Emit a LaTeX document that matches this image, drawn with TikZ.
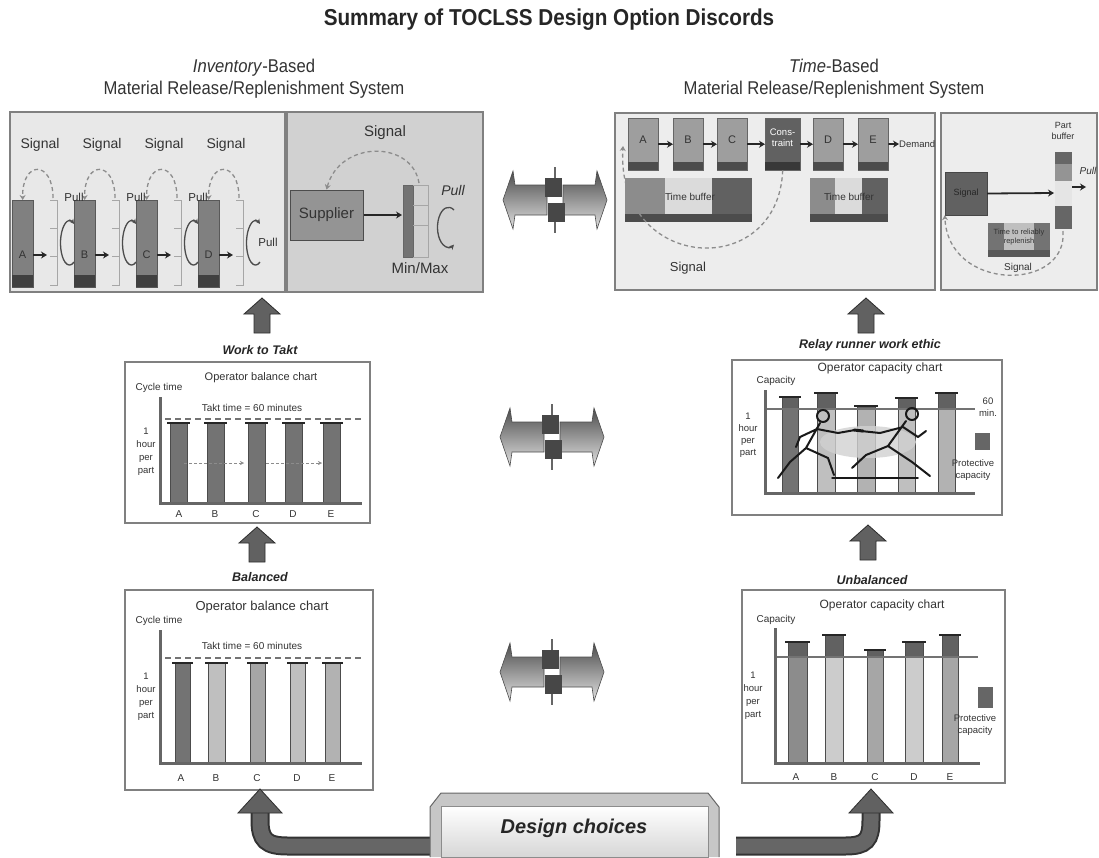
\documentclass[tikz,border=0pt]{standalone}
\usepackage{fontspec}
\setmainfont{Liberation Sans}
\newfontfamily\narrowsans[FakeStretch=0.9]{Liberation Sans}
\usetikzlibrary{arrows.meta}
\usetikzlibrary{calc}
\usetikzlibrary{positioning}

\newcommand\fs[2]{\fontsize{#1}{#2}\selectfont}
% two-tone bar with a cap: x1, x2, top, split, bottom, lower fill
\newcommand\capbar[6]{%
  \fill[black!62] (#1,#3) rectangle (#2,#4);
  \fill[#6] (#1,#4) rectangle (#2,#5);
  \draw[black!70, line width=0.8pt] (#1,#3) rectangle (#2,#5);
  \draw[black!85, line width=2.6pt] (#1-3,#3) -- (#2+3,#3);
}

\tikzset{
  panel/.style={draw=black!50, line width=1.3pt, fill=black!9},
  chart/.style={draw=black!50, line width=1.6pt, fill=white},
  lbl/.style={text=black!80, inner sep=1pt},
  caption/.style={font=\bfseries\itshape\fs{12.5}{15}, text=black!85},
  station/.style={draw=black!65, fill=black!50, minimum width=21pt, minimum height=87pt, inner sep=0},
  proc/.style={draw=black!60, fill=black!38, minimum width=30pt, minimum height=52pt, inner sep=0},
  rack/.style={draw=black!35, line width=0.9pt},
  arrow/.style={-{Stealth[length=6pt,width=7pt]}, line width=1.8pt, draw=black!85},
  signal/.style={-{Stealth[length=5pt,width=6pt]}, dash pattern=on 4pt off 3pt, line width=1.3pt, draw=black!45},
  pullloop/.style={{Stealth[length=5pt,width=5pt]}-, line width=1.3pt, draw=black!70},
  axis/.style={line width=3pt, draw=black!60},
  takt/.style={dash pattern=on 6pt off 4pt, line width=1.6pt, draw=black!55},
  blockarrow/.style={fill=black!62, draw=black!82, line width=0.8pt},
  uparrow/.pic={\path[blockarrow] (0,0) -- (18,16) -- (8,16) -- (8,35) -- (-8,35) -- (-8,16) -- (-18,16) -- cycle;},
  tradeoff/.pic={
    \path[top color=black!70, bottom color=black!12, draw=black!70, line width=0.6pt]
      (-8,-15) -- (-40,-15) -- (-42,-29) -- (-52,0) -- (-42,29) -- (-40,15) -- (-8,15) -- cycle;
    \path[top color=black!70, bottom color=black!12, draw=black!70, line width=0.6pt]
      (8,-15) -- (40,-15) -- (42,-29) -- (52,0) -- (42,29) -- (40,15) -- (8,15) -- cycle;
    \fill[black!72] (-10,-22) rectangle (7,-3);
    \fill[black!72] (-7,3) rectangle (10,22);
    \draw[black!60, line width=1.8pt] (0,-33) -- (0,-22) (0,22) -- (0,33);
  }
}

\begin{document}
\begin{tikzpicture}[x=1pt, y=-1pt]
\useasboundingbox (0,0) rectangle (1099,857);
\fill[white] (0,0) rectangle (1099,857);

% headings
\node[font=\narrowsans\bfseries\fs{23}{27}, text=black!85] (title) at (549,20) {Summary of TOCLSS Design Option Discords};
\node[lbl, font=\narrowsans\fs{18.5}{22}, align=center] (invhead) at (254,79) {\textit{Inventory}-Based\\Material Release/Replenishment System};
\node[lbl, font=\narrowsans\fs{18.5}{22}, align=center] (timehead) at (834,79) {\textit{Time}-Based\\Material Release/Replenishment System};

% ---- inventory based: kanban loops
\draw[panel] (10,112) rectangle (285,292);
\foreach \s/\x in {A/12,B/74,C/136,D/198}{
  \node[station, anchor=north west] (st\s) at (\x,200) {};
  \fill[black!75] (\x,275) rectangle ++(21,12);
  \node[lbl, font=\fs{11}{13}] at (\x+10.5,255) {\s};
  \draw[rack] (\x+38,200) -- (\x+45,200) -- (\x+45,285) -- (\x+38,285)
              (\x+38,228) -- (\x+45,228) (\x+38,256) -- (\x+45,256);
  \coordinate (rk\s) at (\x+41,198);
  \draw[arrow] (\x+21,255) -- (\x+35,255);
  \draw[signal] (rk\s) .. controls (\x+41,160) and (\x+10,160) .. (st\s.north);
  \draw[pullloop] (\x+62,224) arc[start angle=-60, end angle=-300, x radius=9, y radius=22];
  \node[lbl, font=\fs{14}{16}] at (\x+28,145) {Signal};
}
\foreach \x in {12,74,136}
  \node[lbl, font=\fs{11.5}{13}] at (\x+62,197) {Pull};
\node[lbl, font=\fs{11.5}{13}] at (268,242) {Pull};

% supplier with min/max rack
\draw[panel, fill=black!18] (287,112) rectangle (483,292);
\node[draw=black!70, fill=black!42, line width=1pt, minimum width=73pt, minimum height=50pt,
      font=\fs{15}{17}, text=black!80] (supplier) at (326.5,215) {Supplier};
\fill[black!55] (403,185) rectangle (413,257);
\draw[black!60] (403,185) rectangle (413,257);
\draw[rack] (413,185) -- (428,185) -- (428,257) -- (413,257)
            (413,205) -- (428,205) (413,225) -- (428,225);
\coordinate (minmax) at (419,183);
\draw[arrow] (supplier.east) -- (402,215);
\draw[signal] (minmax) .. controls (412,140) and (340,140) .. (supplier.north);
\node[lbl, font=\fs{15}{17}] at (385,133) {Signal};
\node[lbl, font=\itshape\fs{14}{16}] at (453,190) {Pull};
\draw[pullloop, -{Stealth[length=5pt,width=5pt]}] (454,210) arc[start angle=-60, end angle=-300, x radius=11, y radius=20];
\node[lbl, font=\fs{15}{17}] at (420,268) {Min/Max};

% ---- time based: drum buffer rope
\draw[panel, fill=black!7] (615,113) rectangle (935,290);
\foreach \s/\x in {A/628,B/673,C/717,D/813,E/858}{
  \node[proc, anchor=north west] (p\s) at (\x,118) {};
  \fill[black!70] (\x,162) rectangle ++(30,8);
  \node[lbl, font=\fs{11}{13}] at (\x+15,140) {\s};
}
\node[proc, fill=black!62, minimum width=35pt, anchor=north west] (pK) at (765,118) {};
\fill[black!78] (765,162) rectangle ++(35,8);
\node[font=\fs{9.5}{11}, text=white, align=center] at (782.5,138) {Cons-\\traint};
\node[lbl, font=\fs{9.5}{11}, anchor=west, inner sep=0] (demand) at (899,144) {Demand};
\draw[arrow] (pA) -- (pB);
\draw[arrow] (pB) -- (pC);
\draw[arrow] (pC) -- (pK);
\draw[arrow] (pK) -- (pD);
\draw[arrow] (pD) -- (pE);
\draw[arrow] (pE) -- (demand.west);

% time buffers
\fill[black!45] (625,178) rectangle (665,222);
\fill[black!14] (665,178) rectangle (712,222);
\fill[black!62] (712,178) rectangle (752,222);
\fill[black!70] (625,214) rectangle (752,222);
\node[lbl, font=\fs{10}{12}] (tb1) at (690,197) {Time buffer};
\fill[black!45] (810,178) rectangle (835,222);
\fill[black!14] (835,178) rectangle (862,222);
\fill[black!62] (862,178) rectangle (888,222);
\fill[black!70] (810,214) rectangle (888,222);
\node[lbl, font=\fs{10}{12}] (tb2) at (849,197) {Time buffer};
\draw[signal] (pK.south) .. controls (778,282) and (616,272) .. (623,146);
\node[lbl, font=\fs{13}{15}] at (688,268) {Signal};

% part buffer replenishment
\draw[panel, fill=black!7] (941,113) rectangle (1097,290);
\node[fill=black!62, draw=black!72, minimum width=42pt, minimum height=43pt, inner sep=0,
      font=\fs{9}{11}, text=black!85] (sigbox) at (966,193.5) {Signal};
\fill[black!55] (988,223) rectangle (1004,257);
\fill[black!25] (1004,223) rectangle (1034,257);
\fill[black!55] (1034,223) rectangle (1050,257);
\fill[black!65] (988,250) rectangle (1050,257);
\node[lbl, font=\fs{7.5}{9}, align=center] (replen) at (1019,237) {Time to reliably\\replenish};
\fill[black!60] (1055,152) rectangle (1072,164);
\fill[black!42] (1055,164) rectangle (1072,181);
\fill[black!10] (1055,181) rectangle (1072,206);
\fill[black!60] (1055,206) rectangle (1072,229);
\coordinate (pbin) at (1054,193);
\coordinate (pbout) at (1072,187);
\node[lbl, font=\fs{9}{10.5}, align=center] at (1063,131) {Part\\buffer};
\draw[arrow] (sigbox.east) -- (pbin);
\draw[arrow] (pbout) -- (1086,187);
\node[lbl, font=\itshape\fs{10}{12}] at (1088,171) {Pull};
\draw[signal] (1063,231) .. controls (1068,292) and (948,292) .. (sigbox.south west);
\node[lbl, font=\fs{10}{12}] at (1018,268) {Signal};

% trade-off symbols
\pic at (555,200) {tradeoff};
\pic at (552,437) {tradeoff};
\pic at (552,672) {tradeoff};

% up arrows
\pic at (262,298) {uparrow};
\pic at (866,298) {uparrow};
\pic at (257,527) {uparrow};
\pic at (868,525) {uparrow};

% ---- work to takt chart
\node[caption] (takt) at (260,350) {Work to Takt};
\draw[chart] (125,362) rectangle (370,523);
\node[lbl, font=\fs{11}{13}] at (261,378) {Operator balance chart};
\node[lbl, font=\fs{10}{12}] at (159,388) {Cycle time};
\node[lbl, font=\fs{10}{12}] at (252,408) {Takt time = 60 minutes};
\draw[takt] (165,419) -- (362,419);
\foreach \x in {170,207,248,285,323}{\capbar{\x}{\x+17}{423}{423}{503}{black!55}}
\draw[black!45, densely dashed, -{Stealth[length=4pt,width=4pt]}] (184,463) -- (244,463);
\draw[black!45, densely dashed, -{Stealth[length=4pt,width=4pt]}] (266,463) -- (322,463);
\draw[axis] (160,397) -- (160,503) -- (362,503);
\node[lbl, align=center, font=\fs{9.5}{13}] at (146,452) {1\\hour\\per\\part};
\foreach \s/\x in {A/179,B/215,C/256,D/293,E/331}
  \node[lbl, font=\fs{10}{12}] at (\x,514) {\s};

% ---- balanced chart
\node[caption] (bal) at (260,577) {Balanced};
\draw[chart] (125,590) rectangle (373,790);
\node[lbl, font=\fs{13}{15}] at (262,607) {Operator balance chart};
\node[lbl, font=\fs{10}{12}] at (159,621) {Cycle time};
\node[lbl, font=\fs{10}{12}] at (252,646) {Takt time = 60 minutes};
\draw[takt] (165,658) -- (362,658);
\capbar{175}{190}{663}{663}{763}{black!55}
\capbar{208}{225}{663}{663}{763}{black!25}
\capbar{250}{265}{663}{663}{763}{black!35}
\capbar{290}{305}{663}{663}{763}{black!25}
\capbar{325}{340}{663}{663}{763}{black!30}
\draw[axis] (160,630) -- (160,763) -- (362,763);
\node[lbl, align=center, font=\fs{9.5}{13}] at (146,697) {1\\hour\\per\\part};
\foreach \s/\x in {A/181,B/216,C/257,D/297,E/332}
  \node[lbl, font=\fs{10}{12}] at (\x,778) {\s};

% ---- relay runner chart
\node[caption] (relay) at (870,345) {Relay runner work ethic};
\draw[chart] (732,360) rectangle (1002,515);
\node[lbl, font=\fs{12}{14}] at (880,368) {Operator capacity chart};
\node[lbl, font=\fs{10}{12}] at (776,381) {Capacity};
\capbar{782}{798}{397}{409}{493}{black!55}
\capbar{817}{835}{393}{409}{493}{black!25}
\capbar{857}{875}{406}{409}{493}{black!30}
\capbar{898}{915}{398}{409}{493}{black!25}
\capbar{938}{955}{393}{409}{493}{black!30}
\draw[black!55, line width=1.3pt] (765,409) -- (975,409);
\node[lbl, align=center, font=\fs{9.5}{12}] at (988,407) {60\\min.};
\fill[black!60] (975,433) rectangle (990,450);
\node[lbl, align=center, font=\fs{9.5}{12}] at (973,470) {Protective\\capacity};
\node[lbl, align=center, font=\fs{9.5}{12}] at (748,435) {1\\hour\\per\\part};
% the two runners passing the baton
\fill[black!18, opacity=0.8] (868,442) ellipse [x radius=48, y radius=16];
\begin{scope}[line width=2pt, line cap=round, line join=round, black!90]
  \draw (823,416) circle [radius=6];
  \draw (820,423) -- (806,448) (806,448) -- (790,462) -- (778,478)
        (806,448) -- (828,458) -- (834,475) (817,429) -- (838,433) -- (855,430)
        (817,429) -- (800,437) -- (796,447);
  \draw (912,414) circle [radius=6];
  \draw (906,421) -- (888,446) (888,446) -- (866,455) -- (852,468)
        (888,446) -- (912,462) -- (930,476) (903,427) -- (880,433) -- (861,431)
        (903,427) -- (918,437) -- (926,431);
  \draw[line width=3pt] (854,430) -- (863,431);
  \draw[line width=1.5pt] (832,478) -- (918,478);
\end{scope}
\draw[axis] (765,390) -- (765,493) -- (975,493);

% ---- unbalanced chart
\node[caption] (unbal) at (872,580) {Unbalanced};
\draw[chart] (742,590) rectangle (1005,783);
\node[lbl, font=\fs{12}{14}] at (882,605) {Operator capacity chart};
\node[lbl, font=\fs{10}{12}] at (776,620) {Capacity};
\capbar{788}{807}{642}{657}{763}{black!45}
\capbar{825}{843}{635}{657}{763}{black!20}
\capbar{867}{883}{650}{657}{763}{black!35}
\capbar{905}{923}{642}{657}{763}{black!20}
\capbar{942}{958}{635}{657}{763}{black!35}
\draw[black!55, line width=1.3pt] (775,657) -- (978,657);
\draw[axis] (775,628) -- (775,763) -- (980,763);
\fill[black!60] (978,687) rectangle (993,708);
\node[lbl, align=center, font=\fs{9.5}{12}] at (975,725) {Protective\\capacity};
\node[lbl, align=center, font=\fs{9.5}{13}] at (753,696) {1\\hour\\per\\part};
\foreach \s/\x in {A/796,B/834,C/875,D/914,E/950}
  \node[lbl, font=\fs{10}{12}] at (\x,777) {\s};

% ---- design choices and the two branches
\draw[line width=19pt, black!80] (432,846) -- (288,846) .. controls (266,846) and (260,840) .. (260,820) -- (260,811);
\draw[line width=15pt, black!60] (432,846) -- (288,846) .. controls (266,846) and (260,840) .. (260,820) -- (260,811);
\path[blockarrow] (238,813) -- (260,789) -- (282,813) -- cycle;
\draw[line width=19pt, black!80] (736,846) -- (845,846) .. controls (866,846) and (871,840) .. (871,820) -- (871,811);
\draw[line width=15pt, black!60] (736,846) -- (845,846) .. controls (866,846) and (871,840) .. (871,820) -- (871,811);
\path[blockarrow] (849,813) -- (871,789) -- (893,813) -- cycle;
\path[fill=black!22, draw=black!60, line width=1pt] (430,857) -- (430,807) -- (441,793) -- (708,793) -- (719,807) -- (719,857);
\shade[top color=white, bottom color=black!16, draw=black!45] (441,806) rectangle (708,857);
\node[font=\bfseries\itshape\fs{20}{24}, text=black!85] (design) at (574,828) {Design choices};
\end{tikzpicture}
\end{document}
